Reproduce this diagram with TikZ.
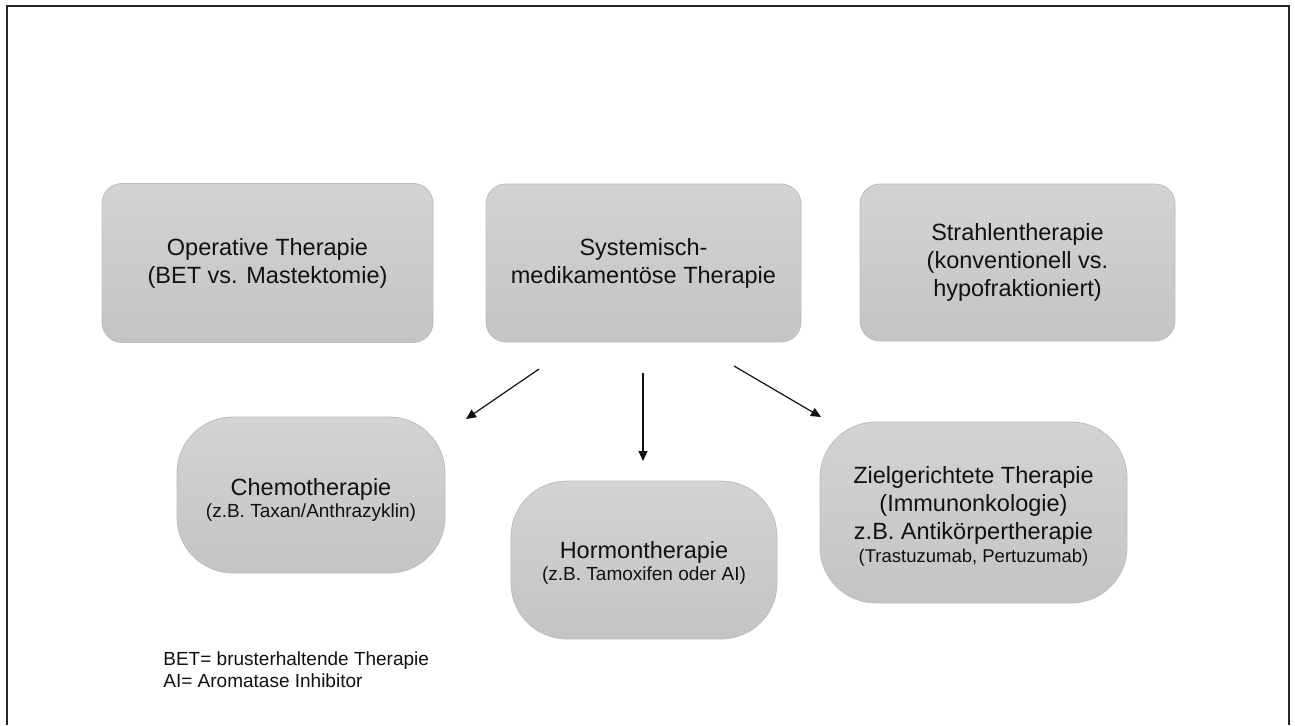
\documentclass[tikz,border=0pt]{standalone}
\usepackage{fontspec}
\setmainfont{Liberation Sans}
\usetikzlibrary{arrows.meta}

\definecolor{boxtop}{HTML}{D3D3D3}
\definecolor{boxbot}{HTML}{C4C4C4}
\definecolor{boxline}{HTML}{BDBDBD}
\definecolor{ink}{HTML}{111111}

\tikzset{
  therapybox/.style={draw=boxline, line width=0.4pt, top color=boxtop, bottom color=boxbot,
    inner sep=0pt, align=center, text=ink,
    font=\fontsize{11.75}{14}\selectfont},
  mainbox/.style={therapybox, rounded corners=10pt},
  subbox/.style={therapybox, rounded corners=28pt},
  link/.style={draw=ink, line width=0.6pt, -{Triangle[length=5pt,width=4.5pt]}},
  small/.style={font=\fontsize{9.5}{11}\selectfont}
}
% taller first line pushes a text block a little lower in its box
\newcommand{\lowerby}[1]{\rule{0pt}{#1}}

\begin{document}
\begin{tikzpicture}[x=0.5pt, y=-0.5pt]
  \useasboundingbox (0,0) rectangle (1295,725);
  \fill[white] (0,0) rectangle (1295,725);

  % frame (open at the bottom)
  \draw[line width=1pt, black!85] (7,725) -- (7,6) -- (1289,6) -- (1289,725);

  % upper row: the three pillars of therapy
  \node[mainbox, minimum width=165.5pt, minimum height=79.5pt] (op) at (267.5,263)
    {Operative Therapie\\(BET vs. Mastektomie)};
  \node[mainbox, minimum width=157.5pt, minimum height=79pt] (sys) at (643.5,263)
    {Systemisch-\\medikamentöse Therapie};
  \node[mainbox, minimum width=157.5pt, minimum height=78.5pt] (rad) at (1017.5,262.5)
    {Strahlentherapie\\(konventionell vs.\\hypofraktioniert)};

  % lower row: forms of systemic therapy
  \node[subbox, minimum width=134pt, minimum height=78pt] (chemo) at (311,495)
    {\lowerby{13.5pt}Chemotherapie\\[-3pt]{\fontsize{9.5}{11}\selectfont (z.B. Taxan/Anthrazyklin)}};
  \node[subbox, minimum width=133pt, minimum height=79pt] (horm) at (644,560)
    {\lowerby{11pt}Hormontherapie\\[-3pt]{\fontsize{9.5}{11}\selectfont (z.B. Tamoxifen oder AI)}};
  \node[subbox, minimum width=153.5pt, minimum height=90.5pt] (target) at (973.5,512.5)
    {\lowerby{12.5pt}Zielgerichtete Therapie\\(Immunonkologie)\\z.B. Antikörpertherapie\\[-2.5pt]{\fontsize{9.25}{11}\selectfont (Trastuzumab, Pertuzumab)}};

  % arrow ends
  \coordinate (a1s) at (539,369);
  \coordinate (a1e) at (466,419);
  \coordinate (a2s) at (643,373);
  \coordinate (a2e) at (643,461);
  \coordinate (a3s) at (734,366);
  \coordinate (a3e) at (821,417);
  \draw[link] (a1s) -- (a1e);
  \draw[link] (a2s) -- (a2e);
  \draw[link] (a3s) -- (a3e);

  % abbreviations
  \node[small, align=left, anchor=base west, inner sep=0pt, text=ink] (legend) at (163,687)
    {BET= brusterhaltende Therapie\\AI= Aromatase Inhibitor};
\end{tikzpicture}
\end{document}
